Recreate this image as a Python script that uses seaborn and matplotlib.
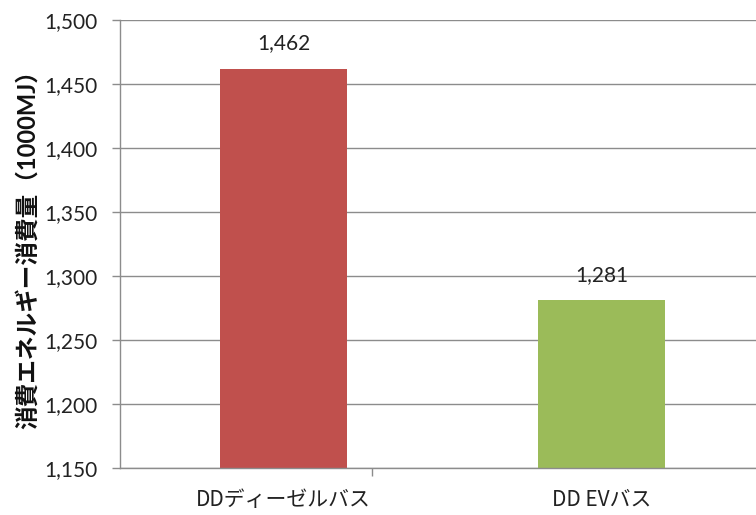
import numpy as np
import pandas as pd
import seaborn as sns
import matplotlib.pyplot as plt
from matplotlib.ticker import FuncFormatter, MultipleLocator, FixedLocator

# Data
categories = ["DDディーゼルバス", "DD EVバス"]
energy = [1462, 1281]
bar_colors = ["#C0504D", "#9BBB59"]

df = pd.DataFrame({"bus": categories, "energy": energy})

sns.set_theme(style="white")
plt.rcParams['font.family'] = ['Lato', 'Noto Sans CJK JP', 'DejaVu Sans']

fig = plt.figure(figsize=(7.56, 5.15), dpi=100)
ax = fig.add_axes([0.1587, 0.0913, 0.8413, 0.8699])

sns.barplot(data=df, x="bus", y="energy", hue="bus", palette=bar_colors,
            width=0.4, legend=False, ax=ax, saturation=1, linewidth=0)

ax.set_ylim(1150, 1500)
ax.set_xlim(-0.514, 1.486)
ax.yaxis.set_major_locator(MultipleLocator(50))
ax.yaxis.set_major_formatter(FuncFormatter(lambda v, p: f"{int(v):,}"))
ax.grid(axis="y", color="#8c8c8c", linewidth=1.0)
ax.set_axisbelow(True)

for s in ["top", "right"]:
    ax.spines[s].set_visible(False)
for s in ["left", "bottom"]:
    ax.spines[s].set_color("#8c8c8c")
    ax.spines[s].set_linewidth(1.0)

ax.tick_params(axis="y", left=True, length=6, width=1, color="#8c8c8c",
               labelsize=15, labelcolor="#222222", pad=10)
ax.tick_params(axis="x", bottom=False, labelsize=15, labelcolor="#222222", pad=9)
ax.xaxis.set_minor_locator(FixedLocator([0.28]))
ax.tick_params(axis="x", which="minor", bottom=True, length=6, width=1, color="#8c8c8c")
for lab in ax.get_xticklabels():
    lab.set_fontfamily(['Noto Sans CJK JP'])
    lab.set_fontweight('normal')

ax.set_xlabel("")
ax.set_ylabel("消費エネルギー消費量（1000MJ）", fontsize=17, fontweight="bold",
              color="#111111", labelpad=4)

for i, v in enumerate(energy):
    ax.text(i, v + 12, f"{v:,}", ha="center", va="bottom", fontsize=15, color="#222222")

fig.savefig("out.png", dpi=100)
